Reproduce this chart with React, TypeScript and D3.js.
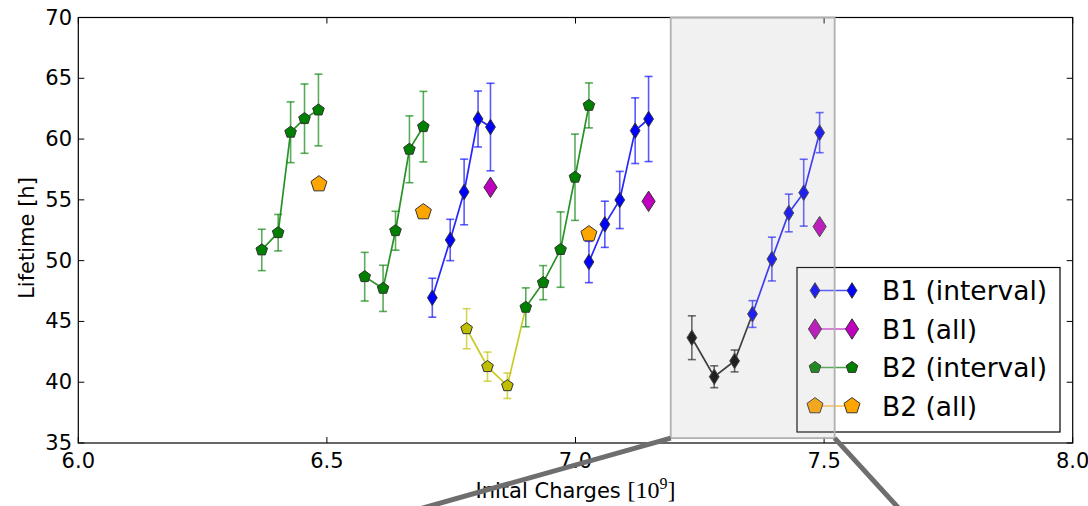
import React from 'react';
import * as d3 from 'd3';

// ---------- data ----------
const xTicks = [6.0, 6.5, 7.0, 7.5, 8.0];
const yTicks = [35, 40, 45, 50, 55, 60, 65, 70];

// B1 (interval) – three runs
const b1IntervalX = [
  [6.712, 6.748, 6.776, 6.804, 6.829],
  [7.027, 7.059, 7.089, 7.120, 7.147],
  [7.356, 7.395, 7.429, 7.459, 7.491],
];
const b1IntervalY = [
  [46.95, 51.7, 55.65, 61.65, 60.99],
  [49.89, 52.99, 54.99, 60.69, 61.65],
  [45.61, 50.13, 53.92, 55.59, 60.53],
];
const b1IntervalErr = [
  [1.6, 1.7, 2.7, 2.3, 3.6],
  [1.7, 1.9, 2.35, 2.7, 3.5],
  [1.1, 1.8, 1.55, 2.75, 1.65],
];

// B1 low-intensity lead-in (black)
const b1LeadX = [7.234, 7.279, 7.32, 7.356];
const b1LeadY = [43.66, 40.45, 41.75, 45.61];
const b1LeadErr = [1.8, 0.9, 0.9, 0];

// B1 (all)
const b1AllX = [6.829, 7.147, 7.491];
const b1AllY = [56.03, 54.88, 52.8];

// B2 (interval) – three runs
const b2IntervalX = [
  [6.369, 6.402, 6.427, 6.455, 6.483],
  [6.576, 6.613, 6.638, 6.666, 6.694],
  [6.9, 6.935, 6.97, 6.999, 7.027],
];
const b2IntervalY = [
  [50.88, 52.3, 60.56, 61.68, 62.39],
  [48.68, 47.72, 52.46, 59.16, 61.02],
  [46.16, 48.19, 50.91, 56.86, 62.77],
];
const b2IntervalErr = [
  [1.7, 1.5, 2.5, 2.85, 2.95],
  [2.0, 1.9, 1.6, 2.75, 2.9],
  [1.6, 1.4, 3.1, 3.55, 1.85],
];

// B2 low-intensity lead-in (yellow)
const b2LeadX = [6.781, 6.823, 6.863, 6.9];
const b2LeadY = [44.4, 41.28, 39.71, 46.16];
const b2LeadErr = [1.65, 1.2, 1.05, 0];

// B2 (all)
const b2AllX = [6.484, 6.694, 7.027];
const b2AllY = [56.3, 54.0, 52.19];

// zoom-inset indicator (data coords) and connector end points
const insetX = [7.1915, 7.5212];
const insetY = [35.4, 70];
const connectorEndX = [6.463, 7.709];
const connectorEndY = 27;

const legendLabels = ['B1 (interval)', 'B1 (all)', 'B2 (interval)', 'B2 (all)'];

// ---------- layout ----------
const W = 1088;
const H = 506;
const L = 78.3;
const R = 1072.7;
const T = 17.5;
const B = 443;

const x = d3.scaleLinear().domain([6, 8]).range([L, R]);
const y = d3.scaleLinear().domain([35, 70]).range([B, T]);

const FONT = '"DejaVu Sans", sans-serif';
const SERIF = '"Liberation Serif", serif';

const diamond = (hw: number, hh: number) => `M0,${-hh}L${hw},0L0,${hh}L${-hw},0Z`;
const pentagon = (r: number) => {
  const pts = d3.range(5).map((k) => {
    const a = ((-90 + 72 * k) * Math.PI) / 180;
    return [r * Math.cos(a), r * Math.sin(a)];
  });
  return 'M' + pts.map((p) => p.join(',')).join('L') + 'Z';
};

const SMALL_D = diamond(4.9, 7.8);
const BIG_D = diamond(6.6, 10.2);
const SMALL_P = pentagon(6.1);
const BIG_P = pentagon(8.4);

const lineGen = d3
  .line<[number, number]>()
  .x((d) => x(d[0]))
  .y((d) => y(d[1]));

type SeriesProps = {
  xs: number[];
  ys: number[];
  errs?: number[];
  color: string;
  marker: string;
  drawLine?: boolean;
  markerTo?: number;
};

function Series({ xs, ys, errs, color, marker, drawLine = true, markerTo }: SeriesProps) {
  const pts: [number, number][] = xs.map((v, i) => [v, ys[i]]);
  const end = markerTo === undefined ? xs.length : markerTo;
  return (
    <g>
      {drawLine && (
        <path d={lineGen(pts) || ''} fill="none" stroke={color} strokeOpacity={0.85} strokeWidth={1.7} />
      )}
      {errs &&
        pts.map((p, i) =>
          errs[i] > 0 ? (
            <g key={'e' + i} stroke={color} strokeOpacity={0.65} strokeWidth={1.6}>
              <line x1={x(p[0])} x2={x(p[0])} y1={y(p[1] - errs[i])} y2={y(p[1] + errs[i])} />
              <line x1={x(p[0]) - 4} x2={x(p[0]) + 4} y1={y(p[1] - errs[i])} y2={y(p[1] - errs[i])} />
              <line x1={x(p[0]) - 4} x2={x(p[0]) + 4} y1={y(p[1] + errs[i])} y2={y(p[1] + errs[i])} />
            </g>
          ) : null
        )}
      {pts.slice(0, end).map((p, i) => (
        <path
          key={'m' + i}
          d={marker}
          transform={`translate(${x(p[0])},${y(p[1])})`}
          fill={color}
          stroke="#333"
          strokeWidth={1}
        />
      ))}
    </g>
  );
}

export default function App() {
  const legendItems = [
    { label: legendLabels[0], color: '#0000ff', marker: SMALL_D },
    { label: legendLabels[1], color: '#bf00bf', marker: BIG_D },
    { label: legendLabels[2], color: '#008000', marker: SMALL_P },
    { label: legendLabels[3], color: '#ffa500', marker: BIG_P },
  ];
  const legX = 797;
  const legY = 267.5;
  const legW = 263;
  const legH = 164.5;
  const rowY = [290.5, 329, 367.5, 406];

  return (
    <svg
      width={W}
      height={H}
      viewBox={`0 0 ${W} ${H}`}
      style={{ position: 'absolute', left: 0, top: 0, background: '#fff' }}
      fontFamily={FONT}
    >
      <rect x={0} y={0} width={W} height={H} fill="#fff" />
      <rect x={L} y={T} width={R - L} height={B - T} fill="#fff" />

      {/* data */}
      <Series xs={b2LeadX} ys={b2LeadY} errs={b2LeadErr} color="#bfbf00" marker={SMALL_P} markerTo={3} />
      <Series xs={b1LeadX} ys={b1LeadY} errs={b1LeadErr} color="#000000" marker={SMALL_D} markerTo={3} />
      {b1IntervalX.map((xs, g) => (
        <Series key={'b1' + g} xs={xs} ys={b1IntervalY[g]} errs={b1IntervalErr[g]} color="#0000ff" marker={SMALL_D} />
      ))}
      <Series xs={b1AllX} ys={b1AllY} color="#bf00bf" marker={BIG_D} drawLine={false} />
      {b2IntervalX.map((xs, g) => (
        <Series key={'b2' + g} xs={xs} ys={b2IntervalY[g]} errs={b2IntervalErr[g]} color="#008000" marker={SMALL_P} />
      ))}
      <Series xs={b2AllX} ys={b2AllY} color="#ffa500" marker={BIG_P} drawLine={false} />

      {/* axes frame and ticks */}
      <rect x={L} y={T} width={R - L} height={B - T} fill="none" stroke="#000" strokeWidth={1.2} />
      {xTicks.map((t) => (
        <g key={'xt' + t}>
          <line x1={x(t)} x2={x(t)} y1={B} y2={B - 6} stroke="#000" />
          <line x1={x(t)} x2={x(t)} y1={T} y2={T + 6} stroke="#000" />
          <text x={x(t)} y={468} textAnchor="middle" fontSize={21} fill="#000">
            {t.toFixed(1)}
          </text>
        </g>
      ))}
      {yTicks.map((t) => (
        <g key={'yt' + t}>
          <line x1={L} x2={L + 6} y1={y(t)} y2={y(t)} stroke="#000" />
          <line x1={R} x2={R - 6} y1={y(t)} y2={y(t)} stroke="#000" />
          <text x={72} y={y(t)} textAnchor="end" dominantBaseline="central" fontSize={21} fill="#000">
            {t}
          </text>
        </g>
      ))}

      {/* axis labels */}
      <text transform={`translate(34,238) rotate(-90)`} textAnchor="middle" fontSize={21} fill="#000">
        Lifetime [h]
      </text>
      <text x={(L + R) / 2} y={498} textAnchor="middle" fontSize={21} fill="#000">
        <tspan>Inital Charges </tspan>
        <tspan fontFamily={SERIF} fontSize={24}>[10</tspan>
        <tspan fontFamily={SERIF} fontSize={16} dy={-9}>9</tspan>
        <tspan fontFamily={SERIF} fontSize={24} dy={9}>]</tspan>
      </text>

      {/* legend */}
      <rect x={legX} y={legY} width={legW} height={legH} fill="#fff" stroke="#000" strokeWidth={1.2} />
      {legendItems.map((it, i) => (
        <g key={'lg' + i}>
          <line x1={815} x2={852} y1={rowY[i]} y2={rowY[i]} stroke={it.color} strokeOpacity={0.7} strokeWidth={1.6} />
          <path d={it.marker} transform={`translate(815,${rowY[i]})`} fill={it.color} stroke="#333" strokeWidth={1} />
          <path d={it.marker} transform={`translate(852,${rowY[i]})`} fill={it.color} stroke="#333" strokeWidth={1} />
          <text x={882} y={rowY[i]} dominantBaseline="central" fontSize={26.5} fill="#000">
            {it.label}
          </text>
        </g>
      ))}

      {/* zoom inset indicator */}
      <rect
        x={x(insetX[0])}
        y={y(insetY[1])}
        width={x(insetX[1]) - x(insetX[0])}
        height={y(insetY[0]) - y(insetY[1])}
        fill="rgb(178,178,178)"
        fillOpacity={0.18}
        stroke="#b0b0b0"
        strokeWidth={1.8}
      />
      <line
        x1={x(insetX[0])}
        y1={y(insetY[0])}
        x2={x(connectorEndX[0])}
        y2={y(connectorEndY)}
        stroke="#6e6e6e"
        strokeWidth={5}
      />
      <line
        x1={x(insetX[1])}
        y1={y(insetY[0])}
        x2={x(connectorEndX[1])}
        y2={y(connectorEndY)}
        stroke="#6e6e6e"
        strokeWidth={5}
      />
    </svg>
  );
}
